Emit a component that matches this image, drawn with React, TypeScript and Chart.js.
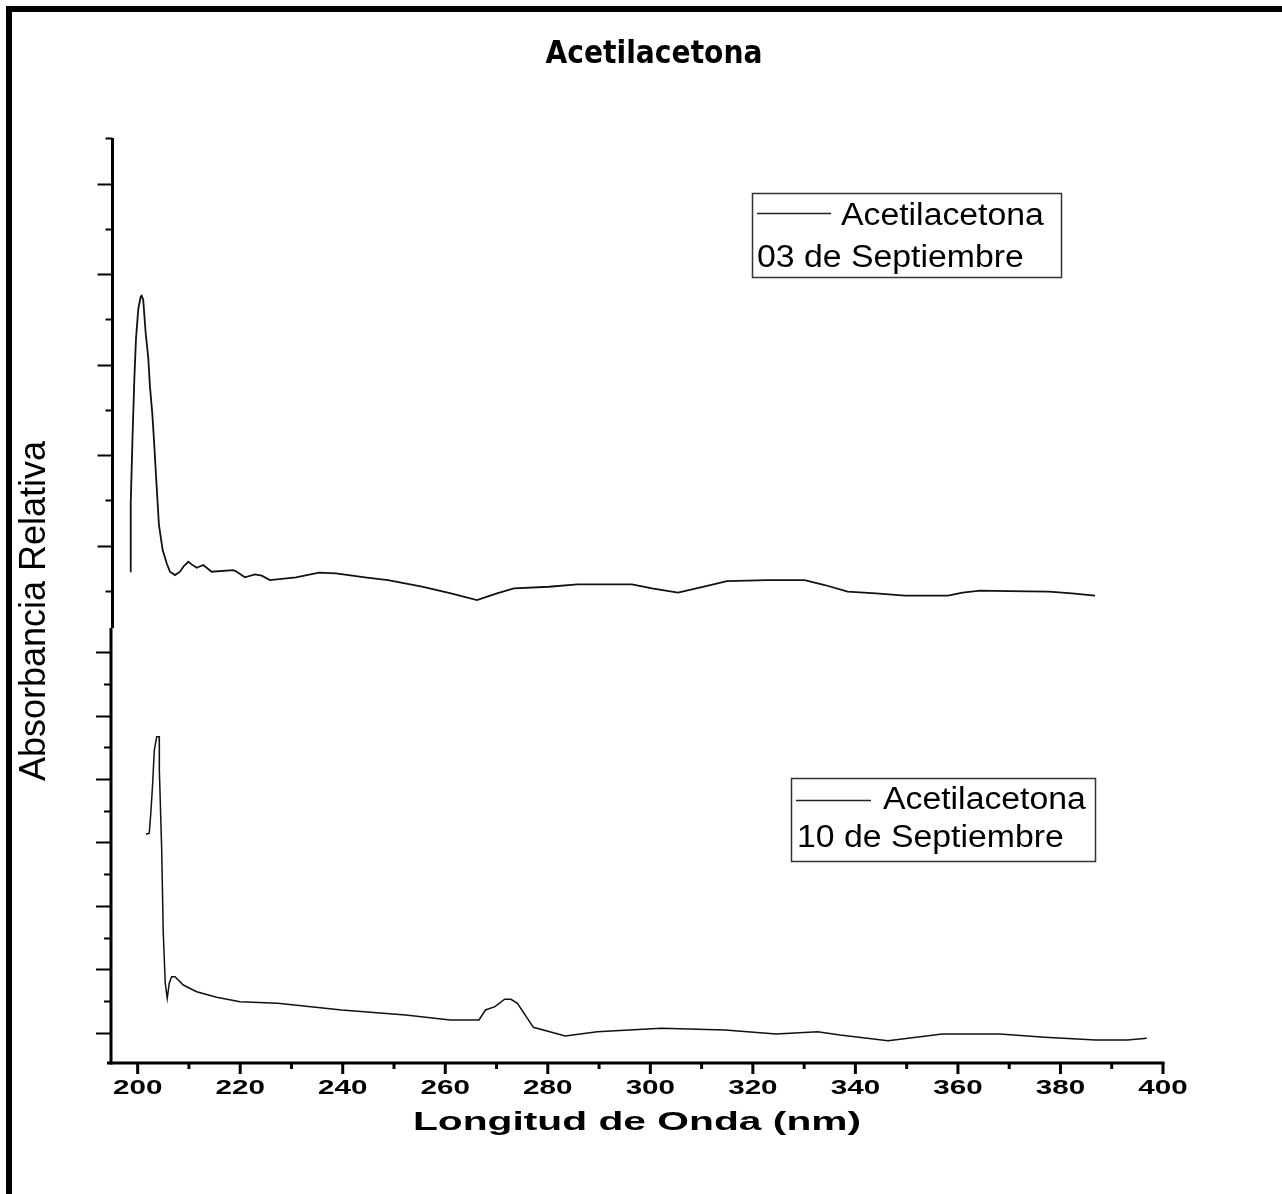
import React, { useEffect, useRef } from "react";
import { Chart, registerables } from "chart.js";

Chart.register(...registerables);

const titleText = "Acetilacetona";
const xAxisTitle = "Longitud de Onda (nm)";
const yAxisTitle = "Absorbancia Relativa";
const legendTop = ["Acetilacetona", "03 de Septiembre"];
const legendBottom = ["Acetilacetona", "10 de Septiembre"];

// Series 1: Acetilacetona 03 de Septiembre (upper panel)
const wl03 = [
  198.6, 198.65, 199.0, 199.34, 199.67, 200.12, 200.59, 200.78, 201.09, 201.56,
  202.07, 202.4, 202.85, 203.18, 203.71, 204.15, 204.88, 205.66, 206.3, 207.28,
  208.25, 208.9, 209.87, 210.53, 211.51, 212.8, 214.43, 218.65, 219.31, 220.93,
  222.88, 224.19, 225.81, 230.88, 235.37, 238.68, 244.34, 248.82, 255.46, 261.11,
  266.19, 270.09, 273.4, 280.23, 285.81, 296.42, 300.32, 305.39, 310.46, 314.95,
  322.75, 330.09, 334.01, 338.5, 344.02, 349.67, 358.06, 360.91, 364.3, 369.88,
  377.76, 382.25, 386.74,
];
const abs03 = [
  0.0713, 0.1468, 0.2204, 0.282, 0.3284, 0.3615, 0.3751, 0.3762, 0.3715, 0.335,
  0.3074, 0.2757, 0.2466, 0.2168, 0.1652, 0.1229, 0.0952, 0.0806, 0.0713, 0.0676,
  0.0713, 0.0768, 0.0823, 0.0794, 0.0757, 0.0787, 0.0713, 0.0731, 0.0713, 0.0651,
  0.0684, 0.0669, 0.0621, 0.0651, 0.0702, 0.0695, 0.0651, 0.0621, 0.0547, 0.0474,
  0.04, 0.0474, 0.0529, 0.0547, 0.0573, 0.0573, 0.0529, 0.0481, 0.0547, 0.061,
  0.0621, 0.0621, 0.0566, 0.0492, 0.0474, 0.0448, 0.0448, 0.0481, 0.0503, 0.0499,
  0.0492, 0.0474, 0.0448,
];

// Series 2: Acetilacetona 10 de Septiembre (lower panel)
const wl10 = [
  201.62, 202.26, 202.54, 202.93, 203.24, 203.71, 204.21, 204.23, 204.68, 204.99,
  205.38, 205.77, 206.16, 206.63, 207.28, 208.9, 211.51, 215.41, 219.96, 227.33,
  239.79, 252.26, 260.98, 266.58, 267.84, 269.7, 271.57, 272.82, 274.07, 277.19,
  283.41, 289.65, 302.12, 314.56, 324.55, 332.64, 336.99, 346.36, 356.95, 368.17,
  376.91, 386.87, 393.09, 396.84,
];
const abs10 = [
  0.4129, 0.4145, 0.4434, 0.4934, 0.5448, 0.5669, 0.5669, 0.5144, 0.3909, 0.2584,
  0.1779, 0.1543, 0.1779, 0.1883, 0.1883, 0.1752, 0.1647, 0.1558, 0.1489, 0.1464,
  0.1358, 0.1279, 0.12, 0.12, 0.1358, 0.141, 0.1527, 0.1527, 0.1464, 0.1085,
  0.0948, 0.1016, 0.1069, 0.1043, 0.0979, 0.1016, 0.0964, 0.0874, 0.0979, 0.0979,
  0.0927, 0.0885, 0.0885, 0.0912,
];

const xMin = 194.8;
const xMax = 400;
const xMajorTicks = [200, 220, 240, 260, 280, 300, 320, 340, 360, 380, 400];
const xMinorTicks = [210, 230, 250, 270, 290, 310, 330, 350, 370, 390];
const upperRange = [0.0091, 0.5505];
const lowerRange = [0.0522, 0.7383];
const upperMajorTicks = [0.1, 0.2, 0.3, 0.4, 0.5];
const upperMinorTicks = [0.05, 0.15, 0.25, 0.35, 0.45, 0.55];
const lowerMajorTicks = [0.1, 0.2, 0.3, 0.4, 0.5, 0.6, 0.7];
const lowerMinorTicks = [0.15, 0.25, 0.35, 0.45, 0.55, 0.65];

function drawText(
  ctx: CanvasRenderingContext2D,
  text: string,
  x: number,
  y: number,
  font: string,
  sx: number,
  align: CanvasTextAlign
) {
  ctx.save();
  ctx.translate(x, y);
  ctx.scale(sx, 1);
  ctx.font = font;
  ctx.textAlign = align;
  ctx.textBaseline = "alphabetic";
  ctx.fillStyle = "#000";
  ctx.fillText(text, 0, 0);
  ctx.restore();
}

const decorPlugin = {
  id: "decor",
  afterDraw(chart: any) {
    const ctx: CanvasRenderingContext2D = chart.ctx;
    const area = chart.chartArea;
    const sx = chart.scales.x;
    const yt = chart.scales.yTop;
    const yb = chart.scales.yBottom;
    ctx.save();
    ctx.fillStyle = "#000";
    // frame
    ctx.fillRect(6, 6, chart.width - 6, 6);
    ctx.fillRect(6, 6, 6, chart.height - 6);

    ctx.strokeStyle = "#000";
    ctx.lineCap = "butt";
    // axis lines
    const upX = area.left + 1.5;
    const loX = area.left;
    const midY = yt.bottom;
    ctx.lineWidth = 3;
    ctx.beginPath();
    ctx.moveTo(upX, yt.top);
    ctx.lineTo(upX, midY);
    ctx.stroke();
    ctx.beginPath();
    ctx.moveTo(loX, midY);
    ctx.lineTo(loX, yb.bottom + 1.5);
    ctx.stroke();
    ctx.beginPath();
    ctx.moveTo(area.left - 4, area.bottom);
    ctx.lineTo(sx.getPixelForValue(xMax) + 1.5, area.bottom);
    ctx.stroke();

    // y ticks
    ctx.lineWidth = 2;
    const yTick = (scale: any, v: number, x0: number, len: number) => {
      const y = Math.round(scale.getPixelForValue(v)) + 0.5;
      ctx.beginPath();
      ctx.moveTo(x0 - len, y);
      ctx.lineTo(x0, y);
      ctx.stroke();
    };
    upperMajorTicks.forEach((v) => yTick(yt, v, upX, 15));
    upperMinorTicks.forEach((v) => yTick(yt, v, upX, 7));
    lowerMajorTicks.forEach((v) => yTick(yb, v, loX, 15));
    lowerMinorTicks.forEach((v) => yTick(yb, v, loX, 7));

    // x ticks
    ctx.lineWidth = 3;
    const xTick = (v: number, len: number) => {
      const x = sx.getPixelForValue(v);
      ctx.beginPath();
      ctx.moveTo(x, area.bottom);
      ctx.lineTo(x, area.bottom + len);
      ctx.stroke();
    };
    xMajorTicks.forEach((v) => xTick(v, 11));
    xMinorTicks.forEach((v) => xTick(v, 6));

    // x tick labels
    xMajorTicks.forEach((v) => {
      drawText(ctx, String(v), sx.getPixelForValue(v), 1094, "bold 20px 'Liberation Sans'", 1.48, "center");
    });
    // x title
    drawText(ctx, xAxisTitle, 637, 1130, "bold 25px 'Liberation Sans'", 1.63, "center");

    // y title
    ctx.save();
    ctx.translate(45, 611);
    ctx.rotate(-Math.PI / 2);
    ctx.font = "36px 'Liberation Sans'";
    ctx.textAlign = "center";
    ctx.textBaseline = "alphabetic";
    ctx.fillStyle = "#000";
    ctx.fillText(yAxisTitle, 0, 0);
    ctx.restore();

    // chart title
    drawText(ctx, titleText, 654, 63, "bold 32px 'DejaVu Sans'", 0.88, "center");

    // legends
    const legendFont = "31px 'Liberation Sans'";
    ctx.lineWidth = 1.5;
    ctx.strokeStyle = "#333";
    ctx.strokeRect(752.5, 193.5, 309, 84);
    ctx.strokeRect(791.5, 778.5, 304, 83);
    ctx.strokeStyle = "#222";
    ctx.beginPath();
    ctx.moveTo(757, 213.5);
    ctx.lineTo(831, 213.5);
    ctx.stroke();
    ctx.beginPath();
    ctx.moveTo(796, 800.5);
    ctx.lineTo(871, 800.5);
    ctx.stroke();
    drawText(ctx, legendTop[0], 841, 225, legendFont, 1.09, "left");
    drawText(ctx, legendTop[1], 757, 267, legendFont, 1.09, "left");
    drawText(ctx, legendBottom[0], 883, 809, legendFont, 1.09, "left");
    drawText(ctx, legendBottom[1], 797, 847, legendFont, 1.09, "left");
    ctx.restore();
  },
};

export default function App() {
  const ref = useRef<HTMLCanvasElement | null>(null);
  useEffect(() => {
    if (!ref.current) return;
    const chart = new Chart(ref.current, {
      type: "line",
      data: {
        datasets: [
          {
            label: legendTop.join(" "),
            data: wl03.map((x, i) => ({ x, y: abs03[i] })),
            borderColor: "#111",
            borderWidth: 1.8,
            pointRadius: 0,
            tension: 0,
            xAxisID: "x",
            yAxisID: "yTop",
          },
          {
            label: legendBottom.join(" "),
            data: wl10.map((x, i) => ({ x, y: abs10[i] })),
            borderColor: "#111",
            borderWidth: 1.5,
            pointRadius: 0,
            tension: 0,
            xAxisID: "x",
            yAxisID: "yBottom",
          },
        ],
      },
      options: {
        animation: false,
        responsive: false,
        devicePixelRatio: 1,
        layout: { padding: { left: 111, top: 138, right: 1282 - 1163, bottom: 1194 - 1063 } },
        plugins: { legend: { display: false }, tooltip: { enabled: false }, title: { display: false } },
        scales: {
          x: { type: "linear", min: xMin, max: xMax, display: false },
          yTop: {
            type: "linear",
            position: "left",
            stack: "panels",
            stackWeight: 490,
            weight: 2,
            min: upperRange[0],
            max: upperRange[1],
            display: false,
          },
          yBottom: {
            type: "linear",
            position: "left",
            stack: "panels",
            stackWeight: 435,
            weight: 1,
            min: lowerRange[0],
            max: lowerRange[1],
            display: false,
          },
        },
      } as any,
      plugins: [decorPlugin],
    });
    return () => chart.destroy();
  }, []);
  return (
    <div style={{ position: "absolute", left: 0, top: 0, width: 1282, height: 1194, background: "#fff" }}>
      <canvas ref={ref} width={1282} height={1194} style={{ display: "block" }} />
    </div>
  );
}
